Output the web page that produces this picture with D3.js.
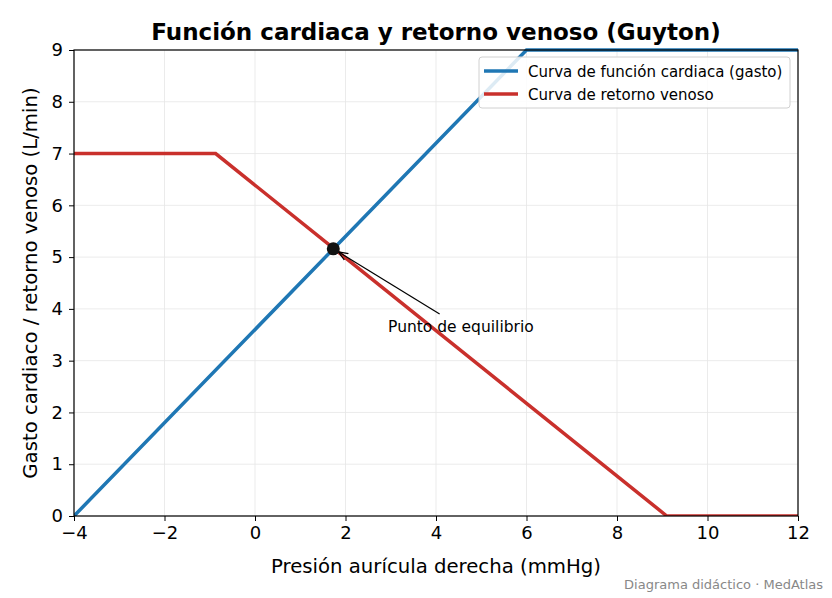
<!DOCTYPE html>
<html>
<head>
<meta charset="utf-8">
<script src="https://cdn.jsdelivr.net/npm/d3@7"></script>
<style>
  body { margin: 0; background: #fff; }
  text { font-family: "DejaVu Sans", sans-serif; }
</style>
</head>
<body>
<div id="chart"></div>
<script>
// datos (mmHg, L/min)
const cardiacX = [-4, 6, 12]
const cardiacY = [0, 9, 9]
const venousX = [-4, -0.87, 9.1, 12]
const venousY = [7, 7, 0, 0]
const equilibrium = [1.73, 5.16]
const xTicks = [-4, -2, 0, 2, 4, 6, 8, 10, 12]
const yTicks = [0, 1, 2, 3, 4, 5, 6, 7, 8, 9]
const seriesNames = ['Curva de función cardiaca (gasto)', 'Curva de retorno venoso']
const seriesColors = ['#1f77b4', '#c9302c']

const W = 832, H = 598
const m = {top: 50, right: 34, bottom: 82, left: 74}

const svg = d3.select('#chart').append('svg')
  .attr('width', W).attr('height', H)

const x = d3.scaleLinear().domain([-4, 12]).range([m.left, W - m.right])
const y = d3.scaleLinear().domain([0, 9]).range([H - m.bottom, m.top])

// rejilla
svg.append('g').selectAll('line').data(xTicks).enter().append('line')
  .attr('x1', d => x(d)).attr('x2', d => x(d))
  .attr('y1', m.top).attr('y2', H - m.bottom)
  .attr('stroke', '#e6e6e6').attr('stroke-width', 0.8)
svg.append('g').selectAll('line').data(yTicks).enter().append('line')
  .attr('x1', m.left).attr('x2', W - m.right)
  .attr('y1', d => y(d)).attr('y2', d => y(d))
  .attr('stroke', '#e6e6e6').attr('stroke-width', 0.8)

const line = d3.line().x(d => x(d[0])).y(d => y(d[1]))

svg.append('clipPath').attr('id', 'clip').append('rect')
  .attr('x', m.left).attr('y', m.top - 2)
  .attr('width', W - m.left - m.right).attr('height', H - m.top - m.bottom + 2)

svg.append('path')
  .datum(d3.zip(cardiacX, cardiacY))
  .attr('d', line)
  .attr('fill', 'none')
  .attr('stroke', seriesColors[0])
  .attr('stroke-width', 3.5)
  .attr('clip-path', 'url(#clip)')

svg.append('path')
  .datum(d3.zip(venousX, venousY))
  .attr('d', line)
  .attr('fill', 'none')
  .attr('stroke', seriesColors[1])
  .attr('stroke-width', 3.5)
  .attr('clip-path', 'url(#clip)')

// ejes
const xAxis = svg.append('g')
  .attr('transform', `translate(0,${H - m.bottom})`)
  .call(d3.axisBottom(x).tickValues(xTicks).tickSizeOuter(0).tickSize(5).tickPadding(5)
    .tickFormat(d => d < 0 ? '\u2212' + Math.abs(d) : d))
const yAxis = svg.append('g')
  .attr('transform', `translate(${m.left},0)`)
  .call(d3.axisLeft(y).tickValues(yTicks).tickSizeOuter(0).tickSize(5).tickPadding(6))
;[xAxis, yAxis].forEach(a => {
  a.select('.domain').remove()
  a.selectAll('.tick line').attr('stroke', '#000').attr('stroke-width', 1)
  a.selectAll('.tick text').attr('font-size', 18).attr('fill', '#000')
    .attr('font-family', '"DejaVu Sans", sans-serif')
})

svg.append('rect')
  .attr('x', m.left).attr('y', m.top)
  .attr('width', W - m.left - m.right).attr('height', H - m.top - m.bottom)
  .attr('fill', 'none').attr('stroke', '#000').attr('stroke-width', 1.2)

// punto de equilibrio
svg.append('defs').append('marker')
  .attr('id', 'arrow').attr('viewBox', '0 0 10 10')
  .attr('refX', 10).attr('refY', 5)
  .attr('markerWidth', 8).attr('markerHeight', 8)
  .attr('orient', 'auto')
  .append('path').attr('d', 'M0,1 L10,5 L0,9').attr('fill', 'none')
  .attr('stroke', '#000').attr('stroke-width', 1.2)

svg.append('line')
  .attr('x1', x(4.08)).attr('y1', y(3.9))
  .attr('x2', x(equilibrium[0]) + 5).attr('y2', y(equilibrium[1]) + 3)
  .attr('stroke', '#000').attr('stroke-width', 1.2)
  .attr('marker-end', 'url(#arrow)')

svg.append('circle')
  .attr('cx', x(equilibrium[0])).attr('cy', y(equilibrium[1]))
  .attr('r', 6.5).attr('fill', '#111')

svg.append('text')
  .attr('x', x(4.55)).attr('y', y(3.55))
  .attr('text-anchor', 'middle').attr('font-size', 15.5)
  .text('Punto de equilibrio')

// títulos
svg.append('text')
  .attr('x', 436).attr('y', 40)
  .attr('text-anchor', 'middle').attr('font-size', 23).attr('font-weight', 'bold')
  .text('Función cardiaca y retorno venoso (Guyton)')

svg.append('text')
  .attr('x', 436).attr('y', 573)
  .attr('text-anchor', 'middle').attr('font-size', 19.7)
  .text('Presión aurícula derecha (mmHg)')

svg.append('text')
  .attr('transform', `translate(37,${(m.top + H - m.bottom) / 2}) rotate(-90)`)
  .attr('text-anchor', 'middle').attr('font-size', 19.7)
  .text('Gasto cardiaco / retorno venoso (L/min)')

svg.append('text')
  .attr('x', 823).attr('y', 589)
  .attr('text-anchor', 'end').attr('font-size', 13).attr('fill', '#888')
  .text('Diagrama didáctico · MedAtlas')

// leyenda
const lg = svg.append('g').attr('transform', 'translate(479,57)')
lg.append('rect')
  .attr('width', 311).attr('height', 51).attr('rx', 3)
  .attr('fill', '#fff').attr('fill-opacity', 0.85)
  .attr('stroke', '#d0d0d0')
const items = lg.selectAll('g.item').data(seriesNames).enter().append('g')
  .attr('transform', (d, i) => `translate(0,${14 + i * 23})`)
items.append('line')
  .attr('x1', 5).attr('x2', 39)
  .attr('stroke', (d, i) => seriesColors[i]).attr('stroke-width', 3.5)
items.append('text')
  .attr('x', 49).attr('y', 5.5).attr('font-size', 15)
  .text(d => d)
</script>
</body>
</html>
